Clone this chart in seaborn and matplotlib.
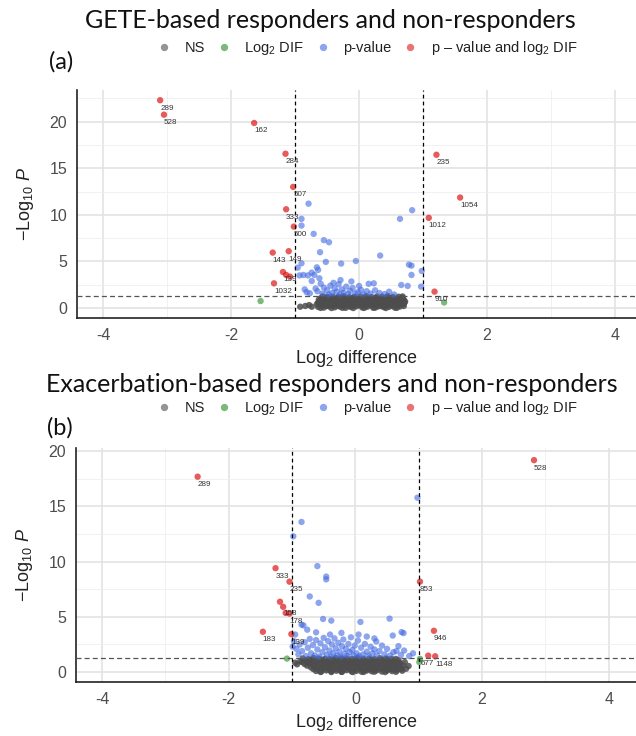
import matplotlib
matplotlib.use("Agg")
import matplotlib.pyplot as plt
import matplotlib.colors as mcolors
import pandas as pd
import seaborn as sns
from matplotlib.ticker import MultipleLocator

# ---------------- data: panel (a) GETE-based ----------------
A_NS = [(-0.64,0.12),(-0.55,0.05),(-0.47,0.18),(-0.38,0.08),(-0.30,0.15),(-0.21,0.02),(-0.13,0.11),(-0.04,0.19),
        (0.05,0.06),(0.13,0.14),(0.22,0.03),(0.30,0.17),(0.39,0.09),(0.47,0.13),(0.56,0.04),(0.64,0.16),
        (-0.60,0.27),(-0.51,0.22),(-0.42,0.30),(-0.34,0.24),(-0.25,0.28),(-0.17,0.21),(-0.08,0.26),(0.01,0.29),
        (0.10,0.23),(0.18,0.31),(0.27,0.25),(0.35,0.20),(0.44,0.28),(0.52,0.24),(0.61,0.26),(0.70,0.22),
        (-0.66,0.42),(-0.58,0.35),(-0.50,0.48),(-0.42,0.38),(-0.33,0.45),(-0.25,0.33),(-0.16,0.50),(-0.08,0.41),
        (0.01,0.36),(0.09,0.47),(0.18,0.39),(0.26,0.44),(0.35,0.32),(0.43,0.49),(0.52,0.37),(0.60,0.43),(0.69,0.40),
        (-0.64,0.58),(-0.56,0.62),(-0.47,0.55),(-0.39,0.60),(-0.30,0.64),(-0.22,0.57),(-0.13,0.61),(-0.05,0.56),
        (0.04,0.63),(0.12,0.59),(0.21,0.54),(0.29,0.62),(0.38,0.58),(0.46,0.65),(0.55,0.56),(0.63,0.60),(0.71,0.57),
        (-0.62,0.72),(-0.53,0.80),(-0.45,0.68),(-0.36,0.77),(-0.28,0.83),(-0.19,0.70),(-0.11,0.76),(-0.02,0.81),
        (0.07,0.69),(0.15,0.78),(0.24,0.74),(0.32,0.85),(0.41,0.71),(0.49,0.79),(0.58,0.73),(0.66,0.82),(0.72,0.70),
        (-0.63,0.90),(-0.55,0.87),(-0.46,0.93),(-0.38,0.88),(-0.29,0.92),(-0.21,0.86),(-0.12,0.94),(-0.04,0.89),
        (0.05,0.91),(0.13,0.85),(0.22,0.93),(0.30,0.88),(0.39,0.90),(0.47,0.95),(0.56,0.87),(0.64,0.92),(0.70,0.89),
        (-0.60,1.05),(-0.51,1.12),(-0.43,0.98),(-0.34,1.08),(-0.26,1.15),(-0.17,1.02),(-0.09,1.10),(0.00,0.96),
        (0.09,1.13),(0.17,1.04),(0.26,1.09),(0.34,1.00),(0.43,1.14),(0.51,1.06),(0.60,0.99),(0.68,1.11),
        (-0.57,1.25),(-0.41,1.22),(-0.24,1.27),(-0.07,1.20),(0.11,1.26),(0.28,1.23),(0.45,1.28),(0.62,1.21),
        (-0.49,1.18),(-0.32,1.21),(-0.15,1.17),(0.02,1.24),(0.19,1.19),(0.36,1.22),(0.53,1.18),(0.68,1.24),
        (-0.60,0.01),(-0.43,0.00),(-0.26,0.02),(-0.09,0.00),(0.08,0.01),(0.25,0.03),(0.42,0.00),(0.59,0.02),
        (-0.92,0.14),(-0.78,0.32),(-0.74,0.14),(-0.84,0.22)]
A_FC = [(-1.54,0.75),(1.33,0.60)]
A_P = [(-0.79,11.2),(0.83,10.5),(0.64,9.57),(-0.90,9.57),(-0.90,8.85),(-0.71,7.96),(-0.55,7.28),(-0.47,7.06),
       (-0.61,5.99),(0.33,5.63),(-0.05,5.05),(-0.52,4.95),(-0.28,4.77),(0.78,4.66),(0.82,4.55),(0.98,3.98),
       (-0.66,4.37),(-0.64,4.09),(-0.74,3.80),(0.82,3.55),(0.23,2.65),(0.66,2.47),(0.76,2.37),(0.97,2.30),
       (0.00,2.37),(-0.90,4.80),(-0.96,4.33),(-0.87,3.55),(-0.74,2.90),(-0.62,3.19),(-0.77,1.58),(-0.93,3.50),
       (-0.70,3.55),(-0.80,3.50),(-0.60,2.60),(-0.55,2.20),(-0.50,1.90),(-0.45,2.40),(-0.42,1.60),(-0.38,2.10),
       (-0.35,1.75),(-0.32,2.55),(-0.30,1.45),(-0.27,2.00),(-0.24,1.65),(-0.20,2.30),(-0.17,1.50),(-0.14,1.85),
       (-0.10,2.15),(-0.06,1.55),(-0.02,1.70),(0.03,1.95),(0.07,1.45),(0.12,1.80),(0.18,1.55),(0.25,1.90),
       (0.32,1.60),(0.40,1.50),(0.47,1.75),(0.55,1.45),(-0.65,1.80),(-0.68,2.10),(-0.57,1.55),(-0.47,1.45),
       (-0.40,2.70),(-0.29,3.00),(-0.12,2.85),(0.15,2.60),(-0.85,2.00),(-0.82,1.70)]
A_SIG = [(-3.11,22.3),(-3.05,20.75),(-1.64,19.86),(-1.15,16.56),(-1.03,13.0),(-1.14,10.6),(-1.02,8.74),
         (-1.35,5.95),(-1.10,6.10),(-1.19,3.87),(-1.14,3.55),(-1.08,3.37),(-1.33,2.65),
         (1.21,16.45),(1.58,11.86),(1.09,9.68),(1.18,1.76)]
A_SIG_LAB = ["289","528","162","284","507","333","500","143","149","139","","","1032","235","1054","1012","910"]

# ---------------- data: panel (b) Exacerbation-based ----------------
B_NS = [(-0.62,0.10),(-0.54,0.04),(-0.46,0.15),(-0.38,0.08),(-0.30,0.12),(-0.22,0.02),(-0.14,0.17),(-0.06,0.06),
        (0.02,0.11),(0.10,0.03),(0.18,0.14),(0.26,0.07),(0.34,0.16),(0.42,0.05),(0.50,0.13),(0.58,0.09),(0.66,0.18),(0.74,0.12),
        (-0.66,0.26),(-0.58,0.22),(-0.50,0.29),(-0.42,0.24),(-0.33,0.27),(-0.25,0.21),(-0.17,0.30),(-0.09,0.25),
        (0.00,0.23),(0.08,0.28),(0.16,0.20),(0.24,0.27),(0.32,0.24),(0.41,0.29),(0.49,0.22),(0.57,0.26),(0.65,0.25),(0.73,0.28),
        (-0.70,0.42),(-0.62,0.36),(-0.53,0.47),(-0.45,0.39),(-0.37,0.44),(-0.28,0.33),(-0.20,0.49),(-0.12,0.41),
        (-0.03,0.37),(0.05,0.46),(0.13,0.40),(0.22,0.34),(0.30,0.48),(0.38,0.38),(0.47,0.45),(0.55,0.35),(0.63,0.43),(0.72,0.39),(0.80,0.30),
        (-0.76,0.58),(-0.67,0.62),(-0.59,0.55),(-0.50,0.61),(-0.42,0.57),(-0.34,0.64),(-0.25,0.56),(-0.17,0.60),
        (-0.08,0.63),(0.00,0.58),(0.08,0.55),(0.17,0.62),(0.25,0.59),(0.33,0.57),(0.42,0.63),(0.50,0.56),(0.58,0.60),(0.67,0.58),(0.75,0.61),
        (-0.80,0.72),(-0.72,0.78),(-0.64,0.70),(-0.55,0.81),(-0.47,0.74),(-0.39,0.69),(-0.30,0.79),(-0.22,0.73),
        (-0.14,0.83),(-0.05,0.71),(0.03,0.77),(0.11,0.80),(0.20,0.68),(0.28,0.75),(0.36,0.82),(0.45,0.72),(0.53,0.76),(0.61,0.70),(0.70,0.79),
        (-0.84,0.90),(-0.76,0.87),(-0.67,0.93),(-0.58,0.88),(-0.50,0.92),(-0.41,0.86),(-0.33,0.94),(-0.24,0.89),
        (-0.16,0.91),(-0.07,0.85),(0.01,0.93),(0.10,0.88),(0.18,0.90),(0.27,0.95),(0.35,0.87),(0.44,0.92),(0.52,0.89),(0.61,0.91),(0.69,0.86),
        (-0.87,0.98),(-0.78,1.06),(-0.69,1.12),(-0.60,1.02),(-0.52,1.09),(-0.43,0.97),(-0.35,1.14),(-0.26,1.04),
        (-0.18,1.10),(-0.09,1.00),(0.00,1.13),(0.08,1.05),(0.17,0.99),(0.25,1.11),(0.34,1.03),(0.42,1.08),(0.51,1.15),(0.59,1.01),(0.68,1.07),
        (-0.83,1.24),(-0.66,1.27),(-0.48,1.21),(-0.31,1.26),(-0.13,1.22),(0.04,1.28),(0.22,1.23),(0.39,1.25),(0.57,1.20),
        (-0.74,1.18),(-0.57,1.22),(-0.40,1.17),(-0.22,1.24),(-0.05,1.19),(0.13,1.21),(0.30,1.18),(0.48,1.23),(0.64,1.19),
        (-0.55,0.01),(-0.38,0.00),(-0.21,0.02),(-0.04,0.00),(0.13,0.01),(0.30,0.03),(0.47,0.00),(0.64,0.02),
        (-0.95,0.85),(-0.92,0.70),(0.84,0.55),(0.78,0.90)]
B_FC = [(-1.08,1.22),(1.02,1.20),(1.01,0.90)]
B_P = [(-0.85,13.6),(-0.98,12.3),(0.98,15.8),(-0.60,9.6),(-0.46,8.65),(-0.46,8.40),(-0.72,6.85),(-0.58,6.27),
       (-0.51,4.81),(-0.38,4.66),(0.08,4.54),(0.54,4.84),(-0.85,4.30),(-0.82,4.23),(-0.76,3.84),(0.73,3.62),
       (0.76,3.53),(0.59,3.31),(0.18,3.22),(0.33,2.77),(-0.99,2.31),(0.65,1.90),(0.77,1.95),(0.91,1.70),
       (-0.97,2.80),(-0.93,2.10),(-0.90,1.60),(-0.88,2.50),(-0.84,1.90),(-0.80,2.70),(-0.78,1.45),(-0.75,2.20),
       (-0.72,3.00),(-0.70,1.70),(-0.67,2.45),(-0.64,1.50),(-0.62,2.90),(-0.60,2.05),(-0.57,1.40),(-0.55,2.60),
       (-0.52,1.80),(-0.50,3.10),(-0.48,2.25),(-0.45,1.55),(-0.43,2.80),(-0.41,1.95),(-0.39,1.40),(-0.37,2.50),
       (-0.35,1.70),(-0.33,3.05),(-0.31,2.15),(-0.29,1.50),(-0.27,2.65),(-0.25,1.85),(-0.23,1.40),(-0.21,2.35),
       (-0.19,2.95),(-0.17,1.65),(-0.15,2.10),(-0.13,1.45),(-0.11,2.55),(-0.09,1.80),(-0.07,3.15),(-0.05,2.00),
       (-0.03,1.50),(-0.01,2.40),(0.02,1.70),(0.04,2.85),(0.06,1.45),(0.09,2.20),(0.12,1.60),(0.15,2.55),
       (0.18,1.85),(0.21,1.45),(0.24,2.30),(0.27,1.70),(0.30,2.05),(0.34,1.50),(0.38,1.90),(0.42,2.40),
       (0.46,1.60),(0.50,2.10),(0.55,1.50),(0.60,1.80),(0.68,2.35),(0.72,1.55),(0.85,1.45),(-0.62,3.60),
       (-0.40,3.40),(-0.22,3.55),(-0.95,3.40),(0.05,3.40),(0.30,3.05)]
B_SIG = [(-2.49,17.7),(-1.26,9.41),(-1.04,8.19),(-1.19,6.37),(-1.14,5.91),(-1.10,5.36),(-1.04,5.30),
         (-1.46,3.65),(-1.01,3.44),(2.82,19.2),(1.02,8.19),(1.24,3.74),(1.15,1.49),(1.26,1.43)]
B_SIG_LAB = ["289","333","235","","","158","178","183","139","528","853","946","677","1148"]

CATS = ["NS", "Log$_2$ DIF", "p-value", "p – value and log$_2$ DIF"]
TITLES = ["GETE-based responders and non-responders",
          "Exacerbation-based responders and non-responders"]
PANEL_TAGS = ["(a)", "(b)"]

# ---------------- style ----------------
sns.set_style("white")
plt.rcParams['font.family'] = ['Liberation Sans', 'DejaVu Sans']
plt.rcParams['mathtext.fontset'] = 'custom'
plt.rcParams['mathtext.rm'] = 'Liberation Sans'
plt.rcParams['mathtext.it'] = 'Liberation Sans:italic'
plt.rcParams['mathtext.bf'] = 'Liberation Sans:bold'
plt.rcParams['axes.unicode_minus'] = False

PALETTE = {CATS[0]: "#4d4d4d", CATS[1]: "#228B22", CATS[2]: "#4169E1", CATS[3]: "#DD1515"}
POINT_ALPHA = {CATS[0]: 0.85, CATS[1]: 0.6, CATS[2]: 0.6, CATS[3]: 0.7}


def frame(ns, fc, p, sig):
    rows = []
    for cat, pts in zip(CATS, [ns, fc, p, sig]):
        for x, y in pts:
            rows.append({"log2": x, "nlp": y, "cat": cat})
    return pd.DataFrame(rows)


fig = plt.figure(figsize=(6.36, 7.36), dpi=100)
W, H = 636, 736
ax_a = fig.add_axes([77 / W, 1 - 318 / H, (636 - 77) / W, (318 - 90) / H])
ax_b = fig.add_axes([76 / W, 1 - 682 / H, (636 - 76) / W, (682 - 448) / H])

panels = [
    (ax_a, frame(A_NS, A_FC, A_P, A_SIG), A_SIG, A_SIG_LAB, (-4.41, 4.33), (-1.07, 23.4)),
    (ax_b, frame(B_NS, B_FC, B_P, B_SIG), B_SIG, B_SIG_LAB, (-4.41, 4.43), (-0.9, 20.3)),
]

nudges = {("b", "677"): (-8, -8), ("b", "158"): (-2, -1)}

for idx, (ax, df, sig, labs, xl, yl) in enumerate(panels):
    ax.set_axisbelow(True)
    ax.xaxis.set_major_locator(MultipleLocator(2))
    ax.xaxis.set_minor_locator(MultipleLocator(1))
    ax.yaxis.set_major_locator(MultipleLocator(5))
    ax.yaxis.set_minor_locator(MultipleLocator(2.5))
    ax.grid(True, which="major", color="#e3e3e3", lw=1.2)
    ax.grid(True, which="minor", color="#efefef", lw=0.6)
    sns.scatterplot(data=df, x="log2", y="nlp", hue="cat", hue_order=CATS, palette=PALETTE,
                    s=21, alpha=0.6, linewidth=0, ax=ax, legend=True, zorder=3)
    coll = ax.collections[-1]
    coll.set_alpha(None)
    coll.set_facecolor([mcolors.to_rgba(PALETTE[c], POINT_ALPHA[c]) for c in df["cat"]])
    ax.axvline(-1, color="black", lw=0.9, ls=(0, (3, 2.5)), zorder=4)
    ax.axvline(1, color="black", lw=0.9, ls=(0, (3, 2.5)), zorder=4)
    ax.axhline(1.3, color="#555555", lw=0.9, ls=(0, (4, 2.5)), zorder=4)
    tag = "ab"[idx]
    for (x, y), lab in zip(sig, labs):
        if lab:
            dx, dy = nudges.get((tag, lab), (0, -8))
            ax.annotate(lab, (x, y), xytext=(dx, dy), textcoords="offset pixels",
                        fontsize=5.8, color="#333333", ha="left", va="center", zorder=5)
    ax.set_xlim(*xl)
    ax.set_ylim(*yl)
    for s in ["top", "right"]:
        ax.spines[s].set_visible(False)
    for s in ["left", "bottom"]:
        ax.spines[s].set_color("#222222")
        ax.spines[s].set_linewidth(1.2)
    ax.tick_params(axis="both", which="major", direction="out", length=4, width=1,
                   color="#333333", labelsize=11.5, labelcolor="#4d4d4d", pad=3)
    ax.tick_params(axis="both", which="minor", length=0)
    ax.set_xlabel("Log$_2$ difference", fontsize=13, color="#222222")
    ax.set_ylabel(r"$-$Log$_{10}$ $\mathit{P}$", fontsize=13, color="#222222")
    ax.xaxis.set_label_coords(0.50, -0.13)
    ax.yaxis.set_label_coords(-0.073, 0.5)
    handles, labels = ax.get_legend_handles_labels()
    ax.get_legend().remove()
    ly = [1 - 48 / H, 1 - 408 / H][idx]
    leg = fig.legend(handles, labels, loc="center", bbox_to_anchor=(365 / W, ly), ncol=4,
                     frameon=False, fontsize=10.5, handletextpad=0.6, columnspacing=0.5,
                     handlelength=1.6, markerscale=1.15, borderaxespad=0, borderpad=0)
    for t in leg.get_texts():
        t.set_color("#222222")

fig.text(330 / W, 1 - 28 / H, TITLES[0], ha="center", va="baseline", fontsize=18,
         family=["Lato", "DejaVu Sans"], color="#111111")
fig.text(332 / W, 1 - 392 / H, TITLES[1], ha="center", va="baseline", fontsize=18,
         family=["Lato", "DejaVu Sans"], color="#111111")
fig.text(61 / W, 1 - 62 / H, PANEL_TAGS[0], ha="center", va="center", fontsize=17,
         family=["Lato", "DejaVu Sans"], color="#111111")
fig.text(60 / W, 1 - 428 / H, PANEL_TAGS[1], ha="center", va="center", fontsize=17,
         family=["Lato", "DejaVu Sans"], color="#111111")

fig.savefig("out.png", dpi=100)
